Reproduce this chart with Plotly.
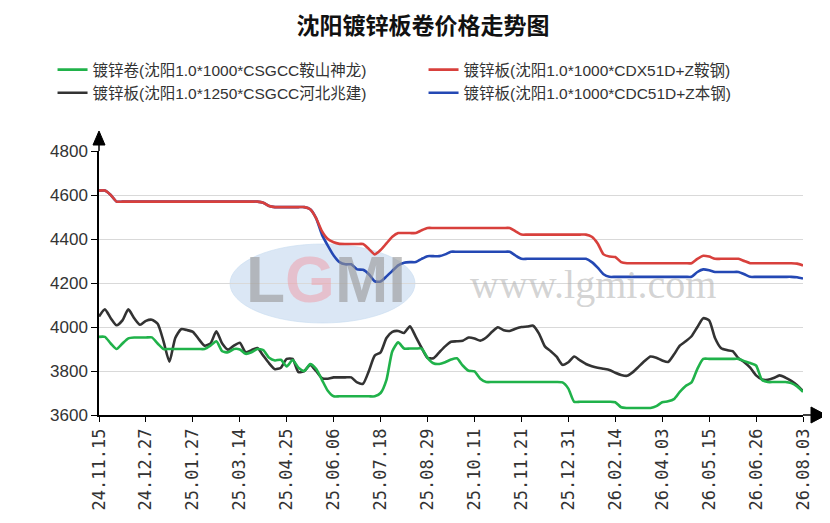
import plotly.graph_objects as go

# tick labels on the x axis (one every 8 samples)
tick_labels = ['24.11.15', '24.12.27', '25.01.27', '25.03.14', '25.04.25', '25.06.06',
               '25.07.18', '25.08.29', '25.10.11', '25.11.21', '25.12.31', '26.02.14',
               '26.04.03', '26.05.15', '26.06.26', '26.08.03']

names = ['镀锌卷(沈阳1.0*1000*CSGCC鞍山神龙)', '镀锌板(沈阳1.0*1000*CDX51D+Z鞍钢)',
         '镀锌板(沈阳1.0*1250*CSGCC河北兆建)', '镀锌板(沈阳1.0*1000*CDC51D+Z本钢)']

green = [3955, 3955, 3925, 3900, 3925, 3948, 3952, 3952, 3952, 3953,
         3925, 3900, 3900, 3900, 3900, 3900, 3900, 3900, 3900, 3915,
         3935, 3890, 3885, 3900, 3898, 3878, 3885, 3900, 3895, 3860,
         3848, 3851, 3821, 3850, 3815, 3800, 3832, 3810, 3760, 3710,
         3685, 3685, 3685, 3685, 3685, 3685, 3685, 3685, 3700, 3760,
         3890, 3930, 3902, 3902, 3902, 3902, 3860, 3835, 3832, 3840,
         3852, 3858, 3825, 3801, 3798, 3765, 3750, 3750, 3750, 3750,
         3750, 3750, 3750, 3750, 3750, 3750, 3750, 3750, 3750, 3748,
         3720, 3660, 3660, 3660, 3660, 3660, 3660, 3660, 3658, 3635,
         3632, 3632, 3632, 3632, 3632, 3640, 3658, 3662, 3672, 3705,
         3732, 3748, 3810, 3855, 3855, 3855, 3855, 3855, 3855, 3855,
         3845, 3836, 3825, 3760, 3750, 3750, 3750, 3750, 3745, 3730,
         3705]

red = [4620, 4620, 4600, 4570, 4570, 4570, 4570, 4570, 4570, 4570,
       4570, 4570, 4570, 4570, 4570, 4570, 4570, 4570, 4570, 4570,
       4570, 4570, 4570, 4570, 4570, 4570, 4570, 4570, 4565, 4550,
       4545, 4545, 4545, 4545, 4545, 4545, 4535, 4495, 4436, 4400,
       4385, 4378, 4377, 4377, 4377, 4377, 4355, 4330, 4350, 4380,
       4410, 4427, 4427, 4427, 4427, 4440, 4450, 4450, 4450, 4450,
       4450, 4450, 4450, 4450, 4450, 4450, 4450, 4450, 4450, 4450,
       4450, 4435, 4420, 4420, 4420, 4420, 4420, 4420, 4420, 4420,
       4420, 4420, 4420, 4420, 4410, 4380, 4330, 4320, 4318, 4295,
       4290, 4290, 4290, 4290, 4290, 4290, 4290, 4290, 4290, 4290,
       4290, 4290, 4310, 4324, 4320, 4310, 4310, 4310, 4310, 4310,
       4300, 4290, 4290, 4290, 4290, 4290, 4290, 4290, 4290, 4288,
       4280]

black = [4048, 4080, 4040, 4008, 4030, 4080, 4040, 4010, 4028, 4033,
         4015, 3935, 3842, 3950, 3990, 3986, 3978, 3945, 3915, 3925,
         3980, 3925, 3897, 3915, 3928, 3885, 3895, 3904, 3870, 3835,
         3808, 3815, 3855, 3855, 3795, 3800, 3828, 3800, 3768, 3765,
         3771, 3771, 3771, 3771, 3748, 3742, 3800, 3870, 3885, 3950,
         3978, 3982, 3973, 4003, 3955, 3905, 3860, 3858, 3885, 3912,
         3933, 3935, 3938, 3952, 3948, 3938, 3952, 3978, 3999, 3985,
         3982, 3992, 4000, 4002, 4006, 3970, 3912, 3890, 3865, 3828,
         3840, 3866, 3848, 3832, 3822, 3815, 3810, 3805, 3792, 3782,
         3778, 3795, 3820, 3845, 3866, 3860, 3848, 3841, 3875, 3915,
         3935, 3958, 4000, 4040, 4030, 3950, 3905, 3895, 3890, 3858,
         3840, 3815, 3780, 3762, 3760, 3768, 3780, 3770, 3755, 3735,
         3708]

blue = [4620, 4620, 4600, 4570, 4570, 4570, 4570, 4570, 4570, 4570,
        4570, 4570, 4570, 4570, 4570, 4570, 4570, 4570, 4570, 4570,
        4570, 4570, 4570, 4570, 4570, 4570, 4570, 4570, 4565, 4550,
        4545, 4545, 4545, 4545, 4545, 4545, 4535, 4495, 4420, 4370,
        4325, 4295, 4285, 4285, 4262, 4260, 4240, 4208, 4207, 4230,
        4255, 4280, 4292, 4295, 4295, 4310, 4322, 4322, 4322, 4330,
        4342, 4342, 4342, 4342, 4342, 4342, 4342, 4342, 4342, 4342,
        4342, 4325, 4310, 4310, 4310, 4310, 4310, 4310, 4310, 4310,
        4310, 4310, 4310, 4310, 4295, 4270, 4240, 4228, 4228, 4228,
        4228, 4228, 4228, 4228, 4228, 4228, 4228, 4228, 4228, 4228,
        4228, 4228, 4250, 4262, 4258, 4250, 4250, 4250, 4250, 4250,
        4240, 4228, 4228, 4228, 4228, 4228, 4228, 4228, 4228, 4226,
        4220]

x = list(range(len(green)))
step = 8
tickvals = list(range(0, len(green), step))

FONT = "Liberation Sans, Noto Sans CJK SC, sans-serif"

fig = go.Figure()
# draw order: blue under red, black under green; legend order via legendrank
for vals, name, color, rank in [(blue, names[3], '#2448b4', 4),
                                (red, names[1], '#d8403c', 2),
                                (black, names[2], '#333333', 3),
                                (green, names[0], '#20b24a', 1)]:
    fig.add_trace(go.Scatter(x=x, y=vals, name=name, mode='lines', legendrank=rank,
                             line=dict(color=color, width=2.6, shape='spline', smoothing=0.6)))

# watermark
fig.add_shape(type='circle', xref='paper', yref='paper', layer='below',
              x0=(222 - 91) / 704, x1=(407 - 91) / 704, y0=(407 - 315) / 264, y1=(407 - 236) / 264,
              fillcolor='rgba(190,212,236,0.55)', line=dict(color='rgba(200,220,240,0.6)', width=1))
fig.add_annotation(xref='paper', yref='paper', x=(318 - 91) / 704, y=(407 - 272) / 264,
                   xanchor='center', yanchor='middle',
                   text="<b>L<span style='color:rgba(240,150,160,0.8)'>G</span>MI</b>",
                   showarrow=False, font=dict(family='Liberation Sans', size=64, color='rgba(150,150,150,0.6)'))
fig.add_annotation(xref='paper', yref='paper', x=(585 - 91) / 704, y=(407 - 276) / 264,
                   xanchor='center', yanchor='middle',
                   text='www.lgmi.com', showarrow=False,
                   font=dict(family='Liberation Serif', size=40, color='rgba(175,175,175,0.55)'))

# axis arrows
fig.add_shape(type='line', xref='paper', yref='paper', x0=0, x1=0, y0=1, y1=(407 - 136) / 264,
              line=dict(color='black', width=1.5))
fig.add_shape(type='path', xref='paper', yref='paper', fillcolor='black', line=dict(color='black', width=1),
              path='M %f,%f L %f,%f L %f,%f Z' % (-6 / 704, 270 / 264, 6 / 704, 270 / 264, 0, 284 / 264))
fig.add_shape(type='line', xref='paper', yref='paper', x0=1, x1=(804 - 91) / 704, y0=0, y1=0,
              line=dict(color='black', width=1.5))
fig.add_shape(type='path', xref='paper', yref='paper', fillcolor='black', line=dict(color='black', width=1),
              path='M %f,%f L %f,%f L %f,%f Z' % (712 / 704, 8 / 264, 712 / 704, -8 / 264, 727 / 704, 0))

fig.update_layout(
    width=830, height=523,
    margin=dict(l=91, r=35, t=143, b=116),
    paper_bgcolor='white', plot_bgcolor='white',
    font=dict(family=FONT, color='#333333'),
    title=dict(text='<b>沈阳镀锌板卷价格走势图</b>', x=0.5, xanchor='center', y=1 - 18 / 523, yanchor='middle',
               font=dict(family='Noto Sans CJK SC', size=23, color='#111111')),
    legend=dict(orientation='h', x=-0.066, xanchor='left', y=(407 - 45) / 264, yanchor='top',
                entrywidth=326, entrywidthmode='pixels', traceorder='normal', tracegroupgap=0,
                font=dict(family=FONT, size=15.5, color='#333333'), bgcolor='rgba(0,0,0,0)'),
    showlegend=True,
)
fig.update_xaxes(range=[0, len(green) - 1], tickvals=tickvals, ticktext=tick_labels, tickangle=-90,
                 showgrid=False, zeroline=False, showline=True, linecolor='black', linewidth=1.5,
                 ticks='outside', ticklen=5, tickcolor='black',
                 tickfont=dict(family='DejaVu Sans Mono', size=17, color='#333333'))
fig.update_yaxes(range=[3600, 4800], dtick=200, showgrid=True, gridcolor='#d9d9d9', gridwidth=1,
                 zeroline=False, showline=True, linecolor='black', linewidth=1.5,
                 ticks='outside', ticklen=6, tickcolor='black',
                 tickfont=dict(family='Liberation Sans', size=17, color='#333333'))

fig.write_html("out.html")
